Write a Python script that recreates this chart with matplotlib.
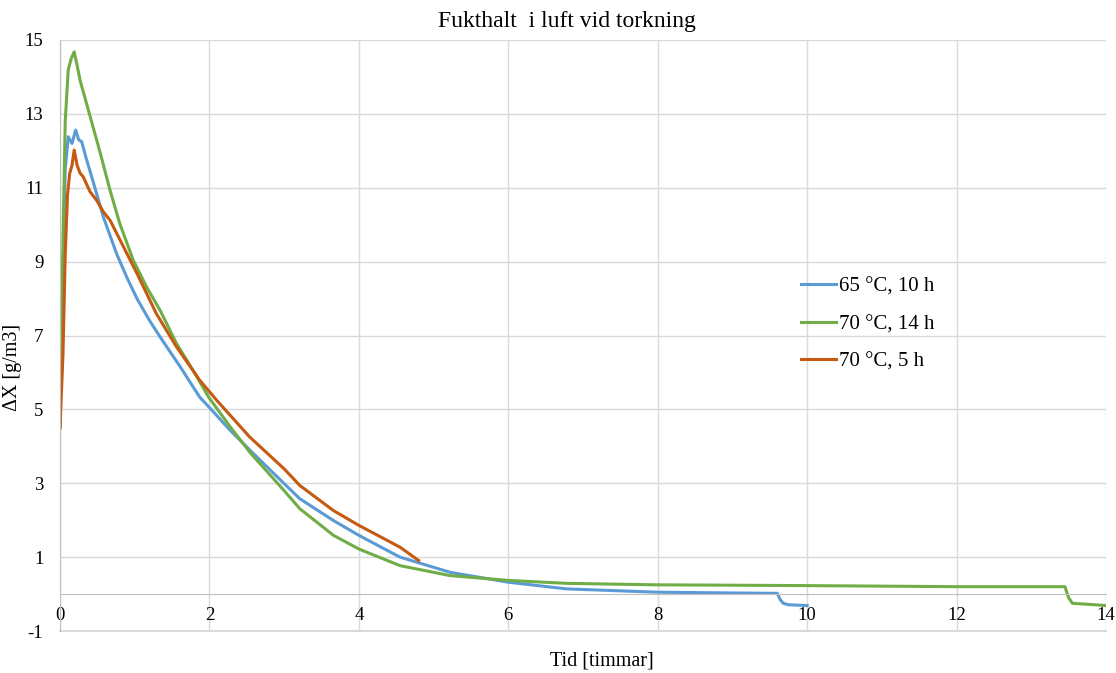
import numpy as np
import matplotlib
matplotlib.use("Agg")
import matplotlib.pyplot as plt

plt.rcParams['font.family'] = ['Liberation Serif', 'DejaVu Serif']
plt.rcParams['axes.unicode_minus'] = False

# 65 °C, 10 h
t_65_10 = [0, 0.03, 0.07, 0.11, 0.16, 0.21, 0.25, 0.29, 0.35, 0.45, 0.58, 0.76, 0.9, 1.03,
           1.2, 1.34, 1.61, 1.87, 2.0, 2.27, 2.54, 3.0, 3.21, 3.66, 4.0, 4.55, 5.22, 6.0,
           6.78, 8.0, 9.0, 9.6, 9.64, 9.68, 9.75, 10.0]
x_65_10 = [4.5, 7.8, 11.5, 12.38, 12.2, 12.56, 12.3, 12.25, 11.8, 11.12, 10.21, 9.2, 8.55, 8.0,
           7.4, 6.96, 6.15, 5.33, 5.05, 4.45, 3.9, 2.99, 2.58, 1.99, 1.59, 1.0, 0.59, 0.32,
           0.14, 0.05, 0.03, 0.02, -0.15, -0.25, -0.29, -0.31]

# 70 °C, 14 h
t_70_14 = [0, 0.03, 0.07, 0.11, 0.15, 0.19, 0.23, 0.27, 0.38, 0.54, 0.67, 0.8, 0.98, 1.16,
           1.34, 1.56, 1.78, 1.99, 2.27, 2.54, 3.0, 3.21, 3.66, 4.0, 4.55, 5.22, 6.0, 6.78,
           8.0, 9.9, 12.0, 13.45, 13.5, 13.55, 13.7, 14.0]
x_70_14 = [4.5, 8.5, 12.8, 14.19, 14.5, 14.68, 14.3, 13.9, 13.1, 11.93, 10.93, 10.03, 9.04, 8.31,
           7.68, 6.78, 6.06, 5.33, 4.55, 3.84, 2.8, 2.31, 1.59, 1.22, 0.77, 0.5, 0.37, 0.29,
           0.25, 0.23, 0.2, 0.2, -0.1, -0.25, -0.27, -0.31]

# 70 °C, 5 h
t_70_5 = [0, 0.04, 0.07, 0.1, 0.13, 0.16, 0.19, 0.23, 0.27, 0.31, 0.4, 0.49, 0.58, 0.67,
          0.85, 1.03, 1.29, 1.56, 1.87, 2.1, 2.54, 3.0, 3.21, 3.66, 4.0, 4.55, 4.8]
x_70_5 = [4.5, 6.5, 9.2, 10.8, 11.39, 11.6, 12.02, 11.6, 11.39, 11.3, 10.9, 10.66, 10.35, 10.12,
          9.4, 8.68, 7.59, 6.69, 5.79, 5.24, 4.25, 3.39, 2.94, 2.26, 1.86, 1.27, 0.91]

labels = ['65 °C, 10 h', '70 °C, 14 h', '70 °C, 5 h']
colors = ['#5B9BD5', '#70AD47', '#C55A11']

fig = plt.figure(figsize=(11.16, 6.73), dpi=100)
ax = fig.add_axes([60/1116, 42/673, 1046/1116, 591/673])

ax.plot(t_65_10, x_65_10, color=colors[0], lw=2.2, label=labels[0])
ax.plot(t_70_14, x_70_14, color=colors[1], lw=2.2, label=labels[1])
ax.plot(t_70_5, x_70_5, color=colors[2], lw=2.2, label=labels[2])

ax.set_xlim(0, 14)
ax.set_ylim(-1, 15)
ax.set_xticks(np.arange(0, 15, 2))
ax.set_yticks(np.arange(-1, 16, 2))
ax.grid(True, color='#D9D9D9', lw=1)
ax.axhline(-1, color='#D9D9D9', lw=1.5, clip_on=False, zorder=0)
ax.set_axisbelow(True)

for s in ['top', 'right']:
    ax.spines[s].set_visible(False)
ax.spines['left'].set_color('#BFBFBF')
ax.spines['bottom'].set_color('#BFBFBF')
ax.spines['bottom'].set_position(('data', 0))
ax.tick_params(length=0, labelsize=13.5)
ax.tick_params(axis='x', pad=9)
ax.tick_params(axis='y', pad=12)

fig.text(567/1116, 1 - 21/673, 'Fukthalt  i luft vid torkning', fontsize=17,
         ha='center', va='center')
fig.text(13/1116, 1 - 367/673, 'ΔX [g/m3]', rotation=90, fontsize=14.5,
         ha='center', va='center')
fig.text(602/1116, 1 - 661/673, 'Tid [timmar]', fontsize=14.5, ha='center', va='center')

ax.legend(loc='center left', bbox_to_anchor=(0.708, 0.519), frameon=False,
          fontsize=15, borderpad=0, borderaxespad=0, handlelength=1.7,
          handletextpad=0.15, labelspacing=0.85)

fig.savefig('out.png', dpi=100)
